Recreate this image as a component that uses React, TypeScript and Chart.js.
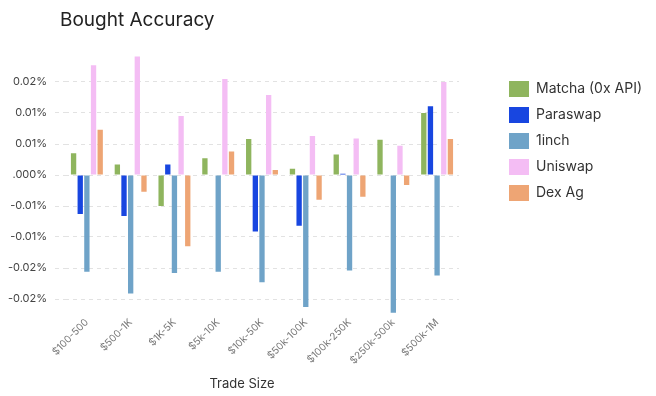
import React, { useEffect, useRef } from "react";
import { Chart, registerables } from "chart.js";

Chart.register(...registerables);

const categories = ["$100-500", "$500-1K", "$1K-5K", "$5k-10K", "$10k-50K", "$50k-100K", "$100k-250K", "$250k-500k", "$500k-1M"];
const matcha = [0.0035, 0.0017, -0.005, 0.0027, 0.0058, 0.001, 0.0033, 0.0057, 0.01];
const paraswap = [-0.0063, -0.0066, 0.0017, -0.0001, -0.0091, -0.0082, 0.0002, -0.0001, 0.0111];
const oneinch = [-0.0156, -0.0191, -0.0158, -0.0156, -0.0173, -0.0213, -0.0154, -0.0222, -0.0162];
const uniswap = [0.0177, 0.0191, 0.0095, 0.0155, 0.0129, 0.0063, 0.0059, 0.0047, 0.015];
const dexag = [0.0073, -0.0027, -0.0115, 0.0038, 0.0008, -0.004, -0.0035, -0.0016, 0.0058];
const tickValues = [-0.02, -0.015, -0.01, -0.005, 0, 0.005, 0.01, 0.015];
const tickLabels = ["-0.02%", "-0.02%", "-0.01%", "-0.01%", ".000%", "0.01%", "0.01%", "0.02%"];

const FONT = "Inter, 'Noto Sans', sans-serif";

export default function App() {
  const ref = useRef<HTMLCanvasElement>(null);
  useEffect(() => {
    const ctx = ref.current!;
    const mk = (label: string, data: number[], color: string) => ({
      label,
      data,
      backgroundColor: color,
      borderWidth: 0,
      categoryPercentage: 0.76,
      barPercentage: 0.8,
    });
    const chart = new Chart(ctx, {
      type: "bar",
      data: {
        labels: categories,
        datasets: [
          mk("Matcha (0x API)", matcha, "#8fb55e"),
          mk("Paraswap", paraswap, "#1846e0"),
          mk("1inch", oneinch, "#6fa3c8"),
          mk("Uniswap", uniswap, "#f4bdf4"),
          mk("Dex Ag", dexag, "#eea574"),
        ],
      },
      options: {
        responsive: false,
        animation: false,
        devicePixelRatio: 1,
        layout: { padding: { top: 51, left: 0, right: 4, bottom: 0 } },
        plugins: {
          title: { display: false },
          tooltip: { enabled: false },
          legend: {
            position: "right",
            align: "start",
            maxWidth: 220,
            title: { display: true, text: "", font: { size: 10 }, padding: { top: 8, bottom: 0 } },
            labels: {
              boxWidth: 20,
              boxHeight: 16,
              padding: 10,
              color: "#333",
              font: { family: FONT, size: 14 },
            },
          },
        },
        scales: {
          x: {
            grid: { display: false, drawTicks: false },
            border: { display: false },
            ticks: {
              minRotation: 45,
              maxRotation: 45,
              autoSkip: false,
              padding: 2,
              color: "#777",
              font: { family: FONT, size: 10 },
            },
            afterFit: (s: any) => {
              s.height = 81.5;
            },
          },
          y: {
            min: -0.0225,
            max: 0.02,
            border: { display: false, dash: [4, 4] },
            grid: { color: "#e2e2e2", tickLength: 10, tickColor: "#e2e2e2", tickBorderDash: [4, 4] },
            afterBuildTicks: (s: any) => {
              s.ticks = tickValues.map((v) => ({ value: v }));
            },
            ticks: {
              padding: 8,
              color: "#444",
              font: { family: FONT, size: 11 },
              callback: (v: any) => {
                let best = 0;
                tickValues.forEach((t, i) => {
                  if (Math.abs(t - v) < Math.abs(tickValues[best] - v)) best = i;
                });
                return tickLabels[best];
              },
            },
            afterFit: (s: any) => {
              s.width = 65;
            },
          },
          pad: {
            position: "right",
            display: true,
            grid: { display: false, drawTicks: false },
            border: { display: false },
            ticks: { display: false },
            afterFit: (s: any) => {
              s.width = 40;
            },
          },
        },
      } as any,
    });
    return () => chart.destroy();
  }, []);
  return (
    <div style={{ position: "fixed", left: 0, top: 0, width: 656, height: 396, background: "#fff" }}>
      <canvas ref={ref} width={656} height={396} style={{ position: "absolute", left: 0, top: 0 }} />
      <div
        style={{
          position: "absolute",
          left: 60,
          top: 8,
          fontFamily: FONT,
          fontSize: 19,
          color: "#222",
          lineHeight: "24px",
          whiteSpace: "nowrap",
        }}
      >
        Bought Accuracy
      </div>
      <div
        style={{
          position: "absolute",
          left: 142,
          width: 200,
          top: 374,
          textAlign: "center",
          fontFamily: FONT,
          fontSize: 13,
          color: "#333",
          lineHeight: "18px",
        }}
      >
        Trade Size
      </div>
    </div>
  );
}
